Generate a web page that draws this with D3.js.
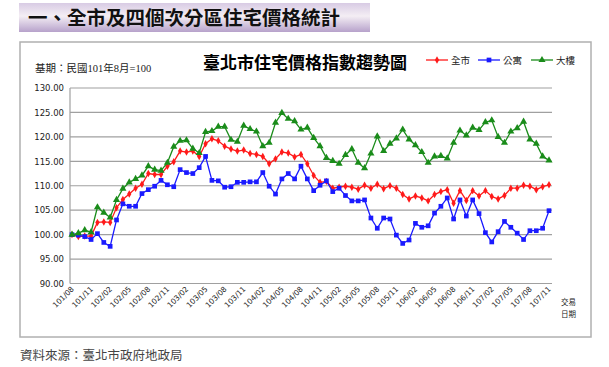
<!DOCTYPE html>
<html>
<head>
<meta charset="utf-8">
<script src="https://cdn.jsdelivr.net/npm/d3@7"></script>
<style>
  body { margin: 0; background: #fff; }
  svg { display: block; }
</style>
</head>
<body>
<svg id="chart"></svg>
<script>
// months 101/08 .. 107/11 (ROC calendar)
const months = [
  "101/08","101/09","101/10","101/11","101/12",
  "102/01","102/02","102/03","102/04","102/05","102/06","102/07","102/08","102/09","102/10","102/11","102/12",
  "103/01","103/02","103/03","103/04","103/05","103/06","103/07","103/08","103/09","103/10","103/11","103/12",
  "104/01","104/02","104/03","104/04","104/05","104/06","104/07","104/08","104/09","104/10","104/11","104/12",
  "105/01","105/02","105/03","105/04","105/05","105/06","105/07","105/08","105/09","105/10","105/11","105/12",
  "106/01","106/02","106/03","106/04","106/05","106/06","106/07","106/08","106/09","106/10","106/11","106/12",
  "107/01","107/02","107/03","107/04","107/05","107/06","107/07","107/08","107/09","107/10","107/11"
];
const tickLabels = [
  "101/08","101/11","102/02","102/05","102/08","102/11","103/02","103/05","103/08",
  "103/11","104/02","104/05","104/08","104/11","105/02","105/05","105/08","105/11",
  "106/02","106/05","106/08","106/11","107/02","107/05","107/08","107/11"
];
const yTicks = [90, 95, 100, 105, 110, 115, 120, 125, 130];

// 全市
const cityIdx = [
  100.0, 99.6, 99.7, 99.7, 102.5, 102.6, 102.5, 105.5, 107.2, 108.3, 109.5, 110.3, 112.5, 112.3, 112.3, 114.0,
  114.9, 117.1, 116.9, 117.1, 116.0, 118.6, 119.6, 119.2, 118.1, 117.5, 117.1, 117.3, 116.6, 116.4, 116.0, 114.5,
  115.5, 116.9, 116.7, 115.9, 116.4, 114.5, 112.1, 110.7, 110.9, 109.5, 109.7, 109.9, 109.7, 109.3, 110.1, 109.5,
  110.3, 109.4, 110.0, 109.5, 108.2, 107.3, 107.9, 107.5, 106.9, 108.2, 108.8, 109.2, 106.4, 109.0, 107.0, 109.0,
  107.9, 109.0, 107.8, 107.3, 108.0, 109.5, 109.5, 110.1, 109.9, 109.2, 109.8, 110.2
];
// 公寓
const aptIdx = [
  100.0, 99.9, 99.6, 99.0, 100.2, 98.4, 97.6, 103.0, 106.3, 105.8, 105.8, 108.4, 109.2, 109.9, 111.1, 110.2,
  109.8, 113.3, 112.7, 112.5, 113.7, 116.0, 111.1, 111.0, 109.7, 109.8, 110.7, 110.7, 110.8, 110.8, 112.7, 109.9,
  108.3, 111.4, 112.5, 111.4, 114.0, 111.4, 109.0, 110.1, 111.0, 108.8, 109.5, 108.0, 106.9, 106.9, 107.1, 103.4,
  101.3, 103.4, 103.2, 99.9, 98.2, 98.9, 102.3, 101.5, 101.8, 104.4, 105.8, 107.5, 103.2, 107.1, 103.8, 107.1,
  104.3, 100.4, 98.5, 100.6, 102.7, 101.5, 100.3, 99.0, 100.8, 100.8, 101.3, 104.9
];
// 大樓
const bldgIdx = [
  100.0, 100.3, 100.9, 100.5, 105.6, 104.5, 103.5, 107.1, 109.4, 110.7, 111.4, 112.1, 114.0, 113.3, 113.1, 114.7,
  118.0, 119.2, 119.3, 117.6, 116.7, 121.0, 121.2, 122.1, 122.1, 119.4, 119.0, 122.3, 121.6, 121.1, 118.1, 118.8,
  122.9, 124.9, 123.7, 123.2, 121.5, 121.9, 119.8, 118.1, 115.7, 115.1, 114.5, 116.3, 117.5, 114.7, 113.6, 116.6,
  120.1, 117.1, 118.6, 119.7, 121.5, 119.5, 118.3, 116.9, 114.7, 116.0, 116.1, 115.6, 118.8, 121.3, 120.3, 121.9,
  121.4, 123.0, 123.4, 120.0, 118.8, 121.1, 121.8, 123.1, 119.5, 118.6, 116.0, 115.2
];

const seriesNames = ["全市", "公寓", "大樓"];
const seriesColors = ["#ff1a1a", "#1a1aff", "#1a8c1a"];
const seriesValues = [cityIdx, aptIdx, bldgIdx];

const W = 609, H = 367;
const svg = d3.select("#chart").attr("width", W).attr("height", H);
const cjk = "'Noto Sans CJK TC', 'Noto Sans CJK SC', sans-serif";
const serifMix = "'Liberation Serif', 'Noto Sans CJK TC', serif";

// ! banner
const defs = svg.append("defs");
const grad = defs.append("linearGradient").attr("id", "banner")
  .attr("x1", 0).attr("y1", 0).attr("x2", 0).attr("y2", 1);
grad.append("stop").attr("offset", "0%").attr("stop-color", "#d8cbe4");
grad.append("stop").attr("offset", "45%").attr("stop-color", "#f4eef4");
grad.append("stop").attr("offset", "100%").attr("stop-color", "#b7a2cb");
svg.append("rect").attr("x", 19).attr("y", 3).attr("width", 351).attr("height", 29)
  .attr("fill", "url(#banner)");
svg.append("text").attr("x", 28).attr("y", 25)
  .attr("font-family", cjk).attr("font-weight", "bold").attr("font-size", 19.5)
  .attr("fill", "#111").text("一、全市及四個次分區住宅價格統計");

// ! chart frame
svg.append("rect").attr("x", 20).attr("y", 42).attr("width", 571).attr("height", 295)
  .attr("fill", "#fff").attr("stroke", "#b0b0b0").attr("stroke-width", 1.5);

svg.append("text").attr("x", 305).attr("y", 69).attr("text-anchor", "middle")
  .attr("font-family", cjk).attr("font-weight", "bold").attr("font-size", 17)
  .attr("fill", "#000").text("臺北市住宅價格指數趨勢圖");

svg.append("text").attr("x", 35).attr("y", 72)
  .attr("font-family", serifMix).attr("font-size", 10.5)
  .attr("fill", "#222").text("基期：民國101年8月=100");

// ! scales
const plot = { left: 70, right: 552, top: 88, bottom: 283.5 };
const x = d3.scalePoint().domain(months).range([72, 549]);
const y = d3.scaleLinear().domain([90, 130]).range([plot.bottom, plot.top]);

// grid
svg.append("g").selectAll("line").data(yTicks).join("line")
  .attr("x1", plot.left).attr("x2", plot.right)
  .attr("y1", d => y(d)).attr("y2", d => y(d))
  .attr("stroke", "#a0a0a0").attr("stroke-width", 1.2);
svg.append("line").attr("x1", plot.left).attr("x2", plot.left)
  .attr("y1", plot.top).attr("y2", plot.bottom)
  .attr("stroke", "#a0a0a0").attr("stroke-width", 1.2);

// y axis labels
const yAxis = d3.axisLeft(y).tickValues(yTicks).tickFormat(d3.format(".2f")).tickSize(0).tickPadding(6);
const gy = svg.append("g").attr("transform", `translate(${plot.left},0)`).call(yAxis);
gy.select(".domain").remove();
gy.selectAll("text").attr("font-family", "'DejaVu Sans', sans-serif").attr("font-size", 8.5).attr("fill", "#222");

// x axis labels
const xAxis = d3.axisBottom(x).tickValues(tickLabels).tickSize(0).tickPadding(0);
const gx = svg.append("g").attr("transform", `translate(0,${plot.bottom})`).call(xAxis);
gx.select(".domain").remove();
gx.selectAll("text")
  .attr("font-family", "'DejaVu Sans', sans-serif").attr("font-size", 7.5).attr("fill", "#222")
  .attr("text-anchor", "end").attr("dy", 0).attr("y", 0)
  .attr("transform", "translate(2,6) rotate(-45)");

svg.append("text").attr("font-family", cjk).attr("font-size", 7.5).attr("fill", "#222")
  .selectAll("tspan").data(["交易", "日期"]).join("tspan")
  .attr("x", 561).attr("y", (d, i) => 305 + i * 12).text(d => d);

// ! lines and markers
const line = d3.line().x((d, i) => x(months[i])).y(d => y(d));
const markerPath = [
  d3.symbol().type(d3.symbolDiamond).size(16),
  d3.symbol().type(d3.symbolSquare).size(22),
  d3.symbol().type(d3.symbolTriangle).size(22)
];

seriesValues.forEach((vals, s) => {
  const g = svg.append("g");
  g.append("path").attr("d", line(vals)).attr("fill", "none")
    .attr("stroke", seriesColors[s]).attr("stroke-width", 1.3);
  g.selectAll("path.m").data(vals).join("path").attr("class", "m")
    .attr("transform", (d, i) => `translate(${x(months[i])},${y(d)})`)
    .attr("d", markerPath[s]()).attr("fill", seriesColors[s]);
});

// legend
const legX = [426, 478, 531];
seriesNames.forEach((name, s) => {
  const lg = svg.append("g").attr("transform", `translate(${legX[s]},60)`);
  lg.append("line").attr("x1", 0).attr("x2", 22).attr("y1", 0).attr("y2", 0)
    .attr("stroke", seriesColors[s]).attr("stroke-width", 1.3);
  lg.append("path").attr("transform", "translate(11,0)").attr("d", markerPath[s]()).attr("fill", seriesColors[s]);
  lg.append("text").attr("x", 25).attr("y", 3.5).attr("font-family", cjk).attr("font-size", 9.5)
    .attr("fill", "#222").text(name);
});

// source
svg.append("text").attr("x", 20).attr("y", 360)
  .attr("font-family", cjk).attr("font-size", 12.5).attr("fill", "#444")
  .text("資料來源：臺北市政府地政局");
</script>
</body>
</html>
